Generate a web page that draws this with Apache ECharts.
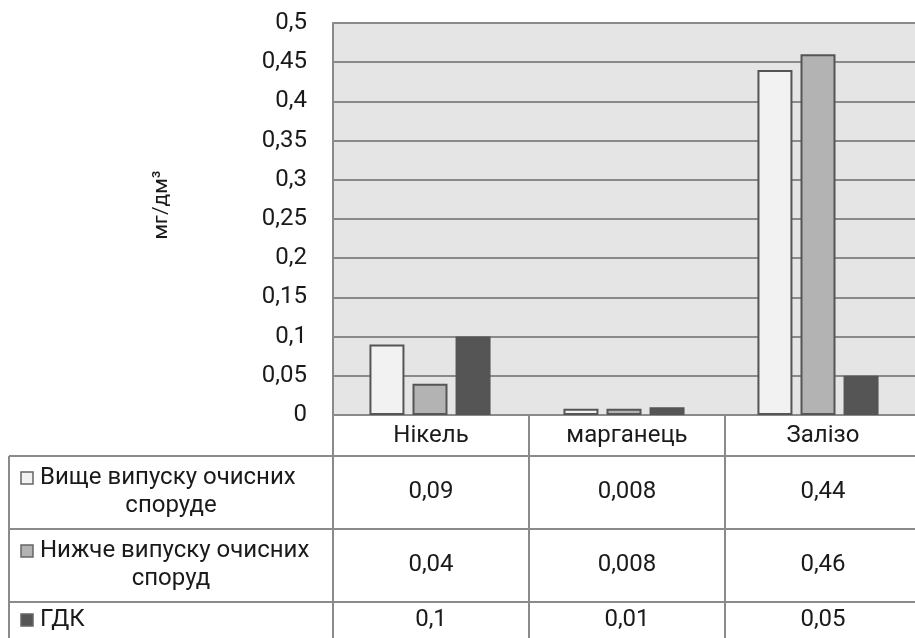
<!DOCTYPE html>
<html><head><meta charset="utf-8">
<script src="https://cdn.jsdelivr.net/npm/echarts@6/dist/echarts.min.js"></script>
<style>html,body{margin:0;padding:0;background:#fff}#c{width:915px;height:638px}</style>
</head><body><div id="c"></div>
<script>
const categories = ['Нікель', 'марганець', 'Залізо'];
const seriesNames = ['Вище випуску очисних споруде', 'Нижче випуску очисних споруд', 'ГДК'];
const rowLabelLines = [['Вище випуску очисних', 'споруде'], ['Нижче випуску очисних', 'споруд'], ['ГДК']];
const above = [0.09, 0.008, 0.44];
const below = [0.04, 0.008, 0.46];
const gdk = [0.1, 0.01, 0.05];
const yTicks = [0, 0.05, 0.1, 0.15, 0.2, 0.25, 0.3, 0.35, 0.4, 0.45, 0.5];
const yName = 'мг/дм³';

const colors = ['#f2f2f2', '#b3b3b3', '#555555'];
const FONT = 'Roboto';
const FS = 24;
const TXT = '#1a1a1a';
const G = {left: 333, top: 23, width: 588, height: 392};
const allSeries = [above, below, gdk];

const chart = echarts.init(document.getElementById('c'));
const fmt = v => String(v).replace('.', ',');
const ts = (extra) => Object.assign({fontFamily: FONT, fontSize: FS, fill: TXT, align: 'center', verticalAlign: 'middle'}, extra || {});

const g = [];
const tblTop = G.top + G.height;
const rowsY = [456, 529, 602, 680];
const colW = G.width / categories.length;
const lineStyle = {stroke: '#8a8a8a', lineWidth: 2};
for (let i = 0; i <= categories.length; i++) {
  const x = G.left + i * colW;
  g.push({type: 'line', shape: {x1: x, y1: tblTop, x2: x, y2: 680}, style: lineStyle});
}
g.push({type: 'line', shape: {x1: 9, y1: rowsY[0], x2: 9, y2: 680}, style: lineStyle});
for (let r = 0; r < 3; r++) {
  g.push({type: 'line', shape: {x1: 9, y1: rowsY[r], x2: 930, y2: rowsY[r]}, style: lineStyle});
}
categories.forEach((c, i) => {
  g.push({type: 'text', x: G.left + (i + 0.5) * colW, y: 436, style: ts({text: c})});
});
const rowCenters = [492, 565, 620];
allSeries.forEach((arr, r) => {
  arr.forEach((v, i) => {
    g.push({type: 'text', x: G.left + (i + 0.5) * colW, y: rowCenters[r], style: ts({text: fmt(v)})});
  });
  const lines = rowLabelLines[r];
  const firstY = lines.length > 1 ? rowCenters[r] - 14 : rowCenters[r];
  g.push({type: 'rect', shape: {x: 21, y: firstY - 6, width: 12, height: 12},
    style: {fill: colors[r], stroke: '#666', lineWidth: 1.5}});
  g.push({type: 'text', x: 40, y: firstY, style: ts({text: lines[0], align: 'left'})});
  if (lines.length > 1) {
    g.push({type: 'text', x: 171, y: firstY + 28, style: ts({text: lines[1]})});
  }
});
g.push({type: 'text', x: 162, y: 205, rotation: Math.PI / 2,
  style: ts({text: yName, fontSize: 21})});

chart.setOption({
  animation: false,
  backgroundColor: '#fff',
  grid: {left: G.left, top: G.top, width: G.width, height: G.height, show: true,
    backgroundColor: '#e5e5e5', borderWidth: 0},
  xAxis: {type: 'category', data: categories,
    axisLine: {show: false}, axisTick: {show: false}, axisLabel: {show: false}},
  yAxis: {type: 'value', min: 0, max: 0.5, interval: 0.05,
    axisLine: {show: true, lineStyle: {color: '#8a8a8a', width: 2}},
    axisTick: {show: false},
    axisLabel: {fontFamily: FONT, fontSize: FS, color: TXT, margin: 26,
      formatter: v => fmt(+v.toFixed(2))},
    splitLine: {lineStyle: {color: '#8a8a8a', width: 2}}},
  series: allSeries.map((arr, r) => ({
    type: 'bar', name: seriesNames[r], data: arr, barWidth: 35, barGap: '23%',
    itemStyle: {color: colors[r], borderColor: '#555', borderWidth: 2}
  })),
  graphic: g
});
</script></body></html>
